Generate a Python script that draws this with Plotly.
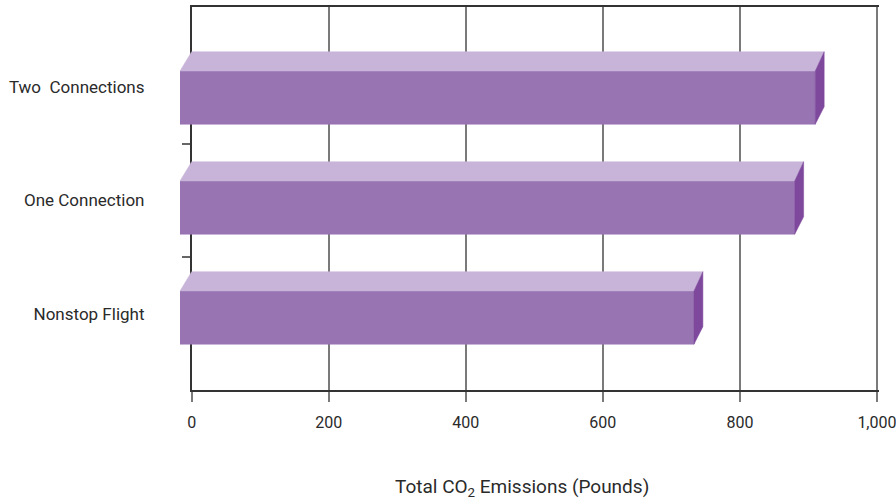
import plotly.graph_objects as go

# ---- data ----
categories = ["Nonstop Flight", "One Connection", "Two  Connections"]
emissions = [746, 893, 923]
x_tickvals = [0, 200, 400, 600, 800, 1000]
x_ticktext = ["0", "200", "400", "600", "800", "1,000"]
x_title = "Total CO<sub>2</sub> Emissions (Pounds)"

# ---- style / 3D geometry (in axis units) ----
FONT = "Roboto, Liberation Sans, sans-serif"
TXT = "#2a2a2a"
C_TOP, C_FRONT, C_SIDE = "#C8B4D8", "#9874B2", "#7E489D"
DX_L, DX_R = 17, 13          # horizontal depth offsets (value units)
DZ_T, DZ_B = 0.17, 0.155     # vertical depth offsets (category units)
HALF_H = 0.235               # half height of front face
PITCH, SHIFT = 0.9705, -0.035

fig = go.Figure()
# invisible anchor trace for the main (gridded) subplot
fig.add_trace(go.Scatter(x=[None], y=[None], xaxis="x", yaxis="y",
                         mode="markers", showlegend=False, hoverinfo="skip"))
for i, (cat, v) in enumerate(zip(categories, emissions)):
    fc = i * PITCH + SHIFT
    ft, fb = fc + HALF_H, fc - HALF_H
    faces = [
        ([-DX_L, v - DX_R, v - DX_R, -DX_L, -DX_L], [fb, fb, ft, ft, fb], C_FRONT),
        ([-DX_L, v - DX_R, v, 0, -DX_L], [ft, ft, ft + DZ_T, ft + DZ_T, ft], C_TOP),
        ([v - DX_R, v, v, v - DX_R, v - DX_R], [ft, ft + DZ_T, fb + DZ_B, fb, ft], C_SIDE),
    ]
    for xs, ys, col in faces:
        fig.add_trace(go.Scatter(
            x=xs, y=ys, xaxis="x2", yaxis="y", mode="lines", fill="toself",
            fillcolor=col, line=dict(color=col, width=0.5),
            hoverinfo="skip", showlegend=False, name=cat))

L, R, T, B = 180, 17, 7, 111
PW = 896 - L - R
scale = PW / (1003 + DX_L)
d0 = DX_L * scale / PW

fig.update_layout(
    width=896, height=501,
    margin=dict(l=L, r=R, t=T, b=B, autoexpand=False),
    paper_bgcolor="white", plot_bgcolor="rgba(0,0,0,0)",
    font=dict(family=FONT, size=17, color=TXT),
    showlegend=False,
    xaxis=dict(
        type="linear", domain=[d0, 1], range=[0, 1003], anchor="y",
        tickmode="array", tickvals=x_tickvals, ticktext=x_ticktext,
        showgrid=True, gridcolor="#7a7a7a", gridwidth=1.5,
        ticks="outside", ticklen=10, tickcolor="#7a7a7a", tickwidth=1.5,
        showline=True, linecolor="#333333", linewidth=1.5, mirror=True,
        zeroline=False, tickfont=dict(size=16, family=FONT, color=TXT),
        ticklabelstandoff=7, ticklabeloverflow="allow",
        fixedrange=True, automargin=False,
    ),
    xaxis2=dict(
        type="linear", domain=[0, 1], range=[-DX_L, 1003], anchor="y",
        visible=False, showgrid=False, zeroline=False, fixedrange=True,
        automargin=False,
    ),
    yaxis=dict(
        type="linear", anchor="x", range=[-0.674, 2.706],
        tickmode="array", tickvals=[0, 1, 2], ticktext=categories, ticks="",
        showgrid=False, zeroline=False,
        showline=True, linecolor="#333333", linewidth=1.5,
        layer="below traces",
        minor=dict(tickmode="array", tickvals=[0.5, 1.5], ticks="outside", ticklen=8,
                   tickcolor="#666666", tickwidth=2, showgrid=False),
        tickfont=dict(size=17, family=FONT, color=TXT),
        ticklabelstandoff=42, ticklabeloverflow="allow",
        fixedrange=True, automargin=False,
    ),
)

fig.add_annotation(
    text=x_title, xref="paper", yref="paper",
    x=(522 - L) / PW, y=-(487 - (501 - B)) / (501 - T - B),
    xanchor="center", yanchor="middle", showarrow=False,
    font=dict(size=19, family=FONT, color=TXT),
)

fig.write_html("out.html", config={"displayModeBar": False},
               post_script="document.body.style.margin='0';")
